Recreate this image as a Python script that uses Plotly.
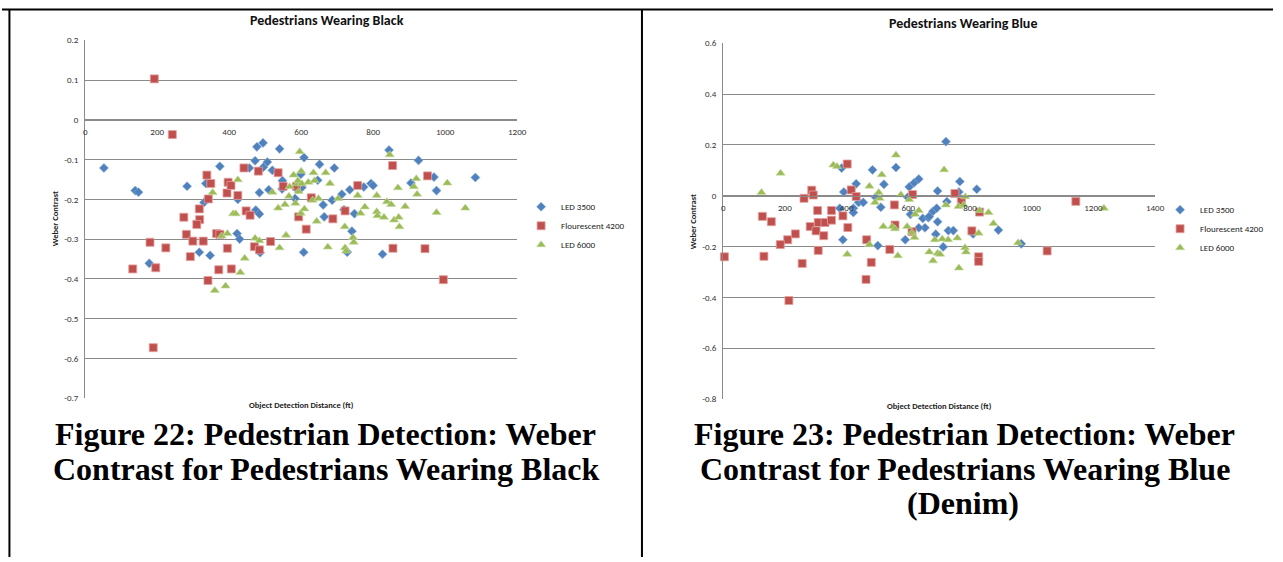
import plotly.graph_objects as go

W, H = 1283, 562

# ---------------- data: Pedestrians Wearing Black ----------------
black_led3500_x = [52, 139, 148, 283, 374, 335, 330, 424, 456, 472, 477, 494, 484, 474, 484, 495, 506, 510, 520, 540,
                   548, 547, 583, 589, 599, 602, 608, 646, 651, 661, 664, 692, 686, 713, 719, 735, 741, 748, 774, 794,
                   800, 844, 905, 926, 969, 976, 1084, 422, 429, 178, 317, 347, 486, 607, 728, 826]
black_led3500_y = [-0.121, -0.178, -0.182, -0.167, -0.117, -0.160, -0.208, -0.200, -0.121, -0.103, -0.068, -0.058,
                   -0.183, -0.227, -0.237, -0.119, -0.106, -0.176, -0.127, -0.073, -0.153, -0.174, -0.198, -0.175,
                   -0.137, -0.170, -0.095, -0.152, -0.112, -0.214, -0.244, -0.121, -0.202, -0.187, -0.226, -0.176,
                   -0.280, -0.236, -0.169, -0.160, -0.165, -0.076, -0.159, -0.102, -0.144, -0.178, -0.145, -0.286,
                   -0.300, -0.361, -0.333, -0.341, -0.334, -0.333, -0.333, -0.338]

black_fl4200_x = [192, 242, 338, 349, 342, 394, 397, 405, 424, 441, 481, 536, 550, 587, 593, 614, 628, 688, 722, 757,
                  854, 951, 447, 458, 317, 318, 310, 274, 281, 328, 299, 180, 365, 374, 395, 224, 515, 470, 484, 855,
                  944, 132, 196, 292, 341, 371, 406, 995, 189]
black_fl4200_y = [0.103, -0.037, -0.139, -0.160, -0.199, -0.184, -0.157, -0.165, -0.190, -0.121, -0.129, -0.133,
                  -0.167, -0.167, -0.244, -0.275, -0.196, -0.249, -0.229, -0.165, -0.115, -0.141, -0.229, -0.240,
                  -0.224, -0.251, -0.263, -0.245, -0.288, -0.305, -0.305, -0.308, -0.286, -0.288, -0.323, -0.322,
                  -0.306, -0.319, -0.327, -0.323, -0.324, -0.375, -0.372, -0.344, -0.404, -0.377, -0.375, -0.402,
                  -0.573]

black_led6000_x = [596, 846, 424, 354, 411, 418, 379, 395, 520, 536, 558, 555, 566, 568, 579, 589, 591, 593, 584, 600,
                   602, 599, 609, 620, 634, 637, 632, 648, 643, 668, 680, 703, 721, 744, 746, 757, 765, 777, 810, 810,
                   812, 830, 838, 850, 858, 869, 871, 873, 889, 920, 913, 922, 976, 1006, 1056, 540, 674, 722, 472,
                   484, 360, 390, 431, 443, 725]
black_led6000_y = [-0.080, -0.088, -0.151, -0.183, -0.236, -0.236, -0.292, -0.286, -0.182, -0.222, -0.290, -0.213,
                   -0.192, -0.168, -0.139, -0.161, -0.153, -0.180, -0.210, -0.129, -0.161, -0.235, -0.224, -0.157,
                   -0.133, -0.153, -0.202, -0.198, -0.255, -0.133, -0.160, -0.198, -0.269, -0.296, -0.308, -0.190,
                   -0.235, -0.219, -0.190, -0.231, -0.241, -0.245, -0.206, -0.213, -0.252, -0.171, -0.245, -0.269,
                   -0.218, -0.148, -0.168, -0.187, -0.233, -0.159, -0.222, -0.322, -0.320, -0.322, -0.298, -0.304,
                   -0.429, -0.418, -0.384, -0.348, -0.330]

# ---------------- data: Pedestrians Wearing Blue ----------------
blue_led3500_x = [722, 384, 391, 431, 484, 521, 560, 603, 619, 634, 695, 767, 764, 822, 378, 439, 454, 422, 422, 494,
                  511, 598, 607, 647, 654, 634, 665, 668, 680, 692, 695, 689, 725, 730, 746, 713, 590, 388, 501, 810,
                  892, 966]
blue_led3500_y = [0.213, 0.109, 0.015, 0.047, 0.102, 0.045, 0.111, 0.035, 0.051, 0.066, 0.019, 0.056, 0.015, 0.026,
                  -0.049, -0.026, -0.026, -0.049, -0.066, -0.006, -0.045, -0.006, -0.073, -0.089, -0.126, -0.126,
                  -0.086, -0.081, -0.061, -0.049, -0.102, -0.151, -0.023, -0.137, -0.137, -0.201, -0.173, -0.173,
                  -0.196, -0.150, -0.135, -0.189]

blue_fl4200_x = [402, 287, 292, 262, 415, 431, 614, 751, 772, 1143, 127, 156, 306, 351, 388, 308, 330, 351, 282, 301,
                 326, 404, 234, 209, 185, 465, 555, 557, 612, 806, 831, 308, 540, 1050, 4, 132, 256, 480, 828, 828,
                 463, 213]
blue_fl4200_y = [0.125, 0.022, 0.003, -0.010, 0.023, -0.003, 0.005, 0.009, -0.022, -0.022, -0.081, -0.102, -0.058,
                 -0.058, -0.079, -0.105, -0.105, -0.096, -0.121, -0.138, -0.157, -0.125, -0.150, -0.173, -0.192,
                 -0.173, -0.036, -0.115, -0.141, -0.138, -0.064, -0.215, -0.211, -0.217, -0.240, -0.238, -0.266,
                 -0.262, -0.240, -0.258, -0.329, -0.412]

blue_led6000_x = [560, 716, 357, 369, 186, 124, 514, 474, 504, 507, 492, 576, 603, 634, 622, 519, 548, 557, 596, 612,
                  620, 722, 763, 785, 779, 831, 860, 876, 828, 686, 710, 729, 759, 784, 787, 956, 1234, 566, 402, 668,
                  695, 703, 680, 764, 474]
blue_led6000_y = [0.160, 0.102, 0.121, 0.115, 0.089, 0.013, 0.083, 0.038, 0.013, -0.010, -0.026, 0.004, -0.015,
                  -0.058, -0.073, -0.121, -0.121, -0.130, -0.121, -0.144, -0.164, -0.036, -0.042, -0.004, -0.036,
                  -0.058, -0.066, -0.109, -0.147, -0.173, -0.170, -0.173, -0.166, -0.204, -0.221, -0.185, -0.049,
                  -0.236, -0.230, -0.221, -0.226, -0.230, -0.256, -0.284, -0.192]

series_names = ["LED 3500", "Flourescent 4200", "LED 6000"]

black_xticks = [0, 200, 400, 600, 800, 1000, 1200]
black_yticks = [0.2, 0.1, 0, -0.1, -0.2, -0.3, -0.4, -0.5, -0.6, -0.7]
black_ytext = ["0.2", "0.1", "0", "-0.1", "-0.2", "-0.3", "-0.4", "-0.5", "-0.6", "-0.7"]
blue_xticks = [0, 200, 400, 600, 800, 1000, 1200, 1400]
blue_yticks = [0.6, 0.4, 0.2, 0, -0.2, -0.4, -0.6, -0.8]
blue_ytext = ["0.6", "0.4", "0.2", "0", "-0.2", "-0.4", "-0.6", "-0.8"]

# ---------------- styling ----------------
FONT = "Carlito, Calibri, 'Liberation Sans Narrow', 'Arial Narrow', 'Liberation Sans', Arial, sans-serif"
SERIF = "'Liberation Serif', 'Times New Roman', serif"
GRID = "#8a8a8a"
styles = [
    dict(symbol="diamond", color="#4F81BD", size=7, line=dict(width=0.6, color="#8FB0DA")),
    dict(symbol="square", color="#C0504D", size=8, line=dict(width=0.8, color="#E3A09E")),
    dict(symbol="triangle-up", color="#9BBB59", size=8, line=dict(width=0.6, color="#C6DA9C")),
]

# plot area boxes in pixels (left, right, top, bottom)
L_BOX = (84, 520, 35, 400)
R_BOX = (728, 1164, 38, 401)


def px_x(v):
    return v / W


def px_y(v):
    return 1 - v / H


fig = go.Figure()

left_sets = [(black_led3500_x, black_led3500_y), (black_fl4200_x, black_fl4200_y), (black_led6000_x, black_led6000_y)]
right_sets = [(blue_led3500_x, blue_led3500_y), (blue_fl4200_x, blue_fl4200_y), (blue_led6000_x, blue_led6000_y)]

for (xs, ys), name, st in zip(left_sets, series_names, styles):
    fig.add_trace(go.Scatter(x=xs, y=ys, mode="markers", name=name, marker=st,
                             xaxis="x", yaxis="y", legend="legend", cliponaxis=False))
for (xs, ys), name, st in zip(right_sets, series_names, styles):
    fig.add_trace(go.Scatter(x=xs, y=ys, mode="markers", name=name, marker=st,
                             xaxis="x2", yaxis="y2", legend="legend2", cliponaxis=False))


def zero_pos(box, ymin, ymax):
    l, r, t, b = box
    y0 = b - (0 - ymin) / (ymax - ymin) * (b - t)
    return px_y(y0)


tickfont = dict(family=FONT, size=9, color="#333333")

common_x = dict(showgrid=False, zeroline=False, showline=True, linecolor=GRID, linewidth=1,
                ticks="outside", ticklen=3, tickcolor="rgba(0,0,0,0)", tickfont=tickfont, anchor="free")
common_y = dict(showgrid=True, gridcolor=GRID, gridwidth=1, zeroline=False, showline=True, linecolor=GRID,
                linewidth=1, ticks="outside", ticklen=4, tickcolor="rgba(0,0,0,0)", tickfont=tickfont)

fig.update_layout(
    width=W, height=H, autosize=False,
    margin=dict(l=0, r=0, t=0, b=0),
    paper_bgcolor="white", plot_bgcolor="rgba(0,0,0,0)",
    xaxis=dict(common_x, domain=[px_x(L_BOX[0]), px_x(L_BOX[1])], range=[0, 1200],
               tickvals=black_xticks, position=zero_pos(L_BOX, -0.7, 0.2)),
    yaxis=dict(common_y, domain=[px_y(L_BOX[3]), px_y(L_BOX[2])], range=[-0.7, 0.2], anchor="x",
               tickvals=black_yticks, ticktext=black_ytext),
    xaxis2=dict(common_x, domain=[px_x(R_BOX[0]), px_x(R_BOX[1])], range=[0, 1400],
                tickvals=blue_xticks, position=zero_pos(R_BOX, -0.8, 0.6)),
    yaxis2=dict(common_y, domain=[px_y(R_BOX[3]), px_y(R_BOX[2])], range=[-0.8, 0.6], anchor="x2",
                tickvals=blue_yticks, ticktext=blue_ytext),
    legend=dict(x=px_x(524), y=px_y(190), xanchor="left", yanchor="top", bgcolor="rgba(0,0,0,0)",
                font=dict(family=FONT, size=9, color="#222222"), itemwidth=30, tracegroupgap=0),
    legend2=dict(x=px_x(1169), y=px_y(193), xanchor="left", yanchor="top", bgcolor="rgba(0,0,0,0)",
                 font=dict(family=FONT, size=9, color="#222222"), itemwidth=30, tracegroupgap=0),
    showlegend=True,
)


def note(text, cx, cy, font, angle=0):
    return dict(text=text, x=px_x(cx), y=px_y(cy), xref="paper", yref="paper", xanchor="center",
                yanchor="middle", showarrow=False, textangle=angle, font=font)


ann = []
title_font = dict(family=FONT, size=14, color="#111111")
ann.append(note("<b>Pedestrians Wearing Black</b>", 328, 15, title_font))
ann.append(note("<b>Pedestrians Wearing Blue</b>", 970, 18, title_font))
small_font = dict(family=FONT, size=8.5, color="#222222")
for cx, cy in [(53, 217), (697, 220)]:
    ann.append(note("<b>Weber Contrast</b>", cx, cy, small_font, -90))
for cx, cy in [(302, 407), (946, 408)]:
    ann.append(note("<b>Object Detection Distance (ft)</b>", cx, cy, small_font))

cap_font = dict(family=SERIF, size=32, color="black")
captions = [
    ("Figure 22: Pedestrian Detection: Weber", 327, 437),
    ("Contrast for Pedestrians Wearing Black", 328, 472),
    ("Figure 23: Pedestrian Detection: Weber", 972, 437),
    ("Contrast for Pedestrians Wearing Blue", 972, 472),
    ("(Denim)", 970, 507),
]
for t, cx, cy in captions:
    ann.append(note("<b>" + t + "</b>", cx, cy, cap_font))
fig.update_layout(annotations=ann)

# table borders
shapes = [
    dict(type="line", xref="paper", yref="paper", x0=0, x1=1, y0=px_y(3.5), y1=px_y(3.5),
         line=dict(color="black", width=2)),
    dict(type="line", xref="paper", yref="paper", x0=px_x(7.5), x1=px_x(7.5), y0=px_y(3), y1=0,
         line=dict(color="black", width=2)),
    dict(type="line", xref="paper", yref="paper", x0=px_x(646), x1=px_x(646), y0=px_y(3), y1=0,
         line=dict(color="black", width=2)),
]
fig.update_layout(shapes=shapes)

fig.write_html("out.html")
